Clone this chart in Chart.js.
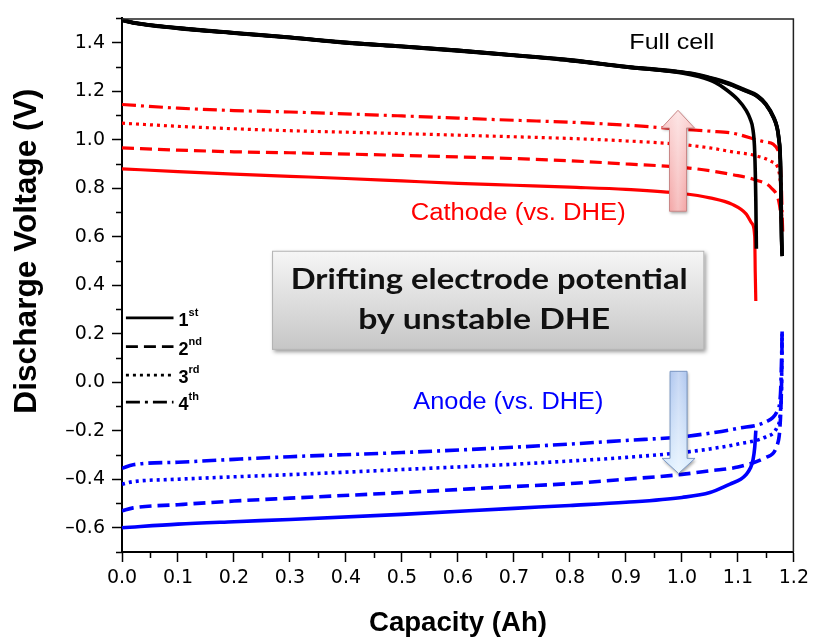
<!DOCTYPE html>
<html>
<head>
<meta charset="utf-8">
<script src="https://cdn.jsdelivr.net/npm/chart.js@4.4.1/dist/chart.umd.min.js"></script>
<style>
html,body{margin:0;padding:0;background:#fff;}
canvas{display:block;}
</style>
</head>
<body>
<canvas id="chart" width="814" height="638"></canvas>
<script>
// ---------- axis ticks ----------
const xTickValues = [0, 0.1, 0.2, 0.3, 0.4, 0.5, 0.6, 0.7, 0.8, 0.9, 1.0, 1.1, 1.2];
const xTickLabels = ['0.0','0.1','0.2','0.3','0.4','0.5','0.6','0.7','0.8','0.9','1.0','1.1','1.2'];
const yTickValues = [-0.6, -0.4, -0.2, 0, 0.2, 0.4, 0.6, 0.8, 1.0, 1.2, 1.4];
const yTickLabels = ['\u20130.6','\u20130.4','\u20130.2','0.0','0.2','0.4','0.6','0.8','1.0','1.2','1.4'];

// ---------- Full cell (black) ----------
const fullCap1 = [0, 0.02, 0.1, 0.2, 0.3, 0.4, 0.5, 0.6, 0.7, 0.8, 0.9, 1.0, 1.03, 1.06, 1.08, 1.1, 1.115, 1.122, 1.127, 1.13, 1.132, 1.133];
const fullV1   = [1.493, 1.482, 1.46, 1.44, 1.422, 1.40, 1.385, 1.368, 1.348, 1.328, 1.30, 1.275, 1.26, 1.235, 1.205, 1.165, 1.12, 1.085, 1.04, 0.95, 0.75, 0.55];
const fullCapN = [0, 0.02, 0.1, 0.2, 0.3, 0.4, 0.5, 0.6, 0.7, 0.8, 0.9, 1.0, 1.03, 1.06, 1.09, 1.11, 1.134, 1.15, 1.164, 1.17, 1.173, 1.176, 1.177, 1.178, 1.179];
const fullV2   = [1.492, 1.481, 1.459, 1.44, 1.421, 1.401, 1.384, 1.367, 1.348, 1.327, 1.301, 1.278, 1.266, 1.248, 1.225, 1.205, 1.18, 1.145, 1.09, 1.05, 1.005, 0.9, 0.75, 0.6, 0.52];
const fullV3   = [1.494, 1.483, 1.461, 1.441, 1.422, 1.40, 1.385, 1.368, 1.349, 1.329, 1.302, 1.279, 1.268, 1.25, 1.228, 1.208, 1.183, 1.148, 1.093, 1.052, 1.008, 0.91, 0.76, 0.61, 0.53];
const fullV4   = [1.493, 1.482, 1.46, 1.439, 1.42, 1.399, 1.383, 1.366, 1.347, 1.326, 1.30, 1.277, 1.265, 1.247, 1.224, 1.204, 1.179, 1.144, 1.088, 1.048, 1.003, 0.89, 0.74, 0.59, 0.52];

// ---------- Cathode (red) ----------
const cathCap1 = [0, 0.1, 0.2, 0.3, 0.4, 0.5, 0.6, 0.7, 0.8, 0.9, 1.0, 1.05, 1.09, 1.115, 1.125, 1.13, 1.131, 1.132];
const cathV1   = [0.88, 0.868, 0.858, 0.849, 0.84, 0.83, 0.82, 0.812, 0.804, 0.795, 0.778, 0.76, 0.733, 0.693, 0.655, 0.6, 0.45, 0.335];
const cathCapN = [0, 0.1, 0.2, 0.3, 0.5, 0.7, 0.8, 0.9, 1.0, 1.05, 1.09, 1.13, 1.16, 1.173, 1.177, 1.179];
const cathV2   = [0.966, 0.957, 0.95, 0.946, 0.935, 0.922, 0.913, 0.90, 0.886, 0.872, 0.856, 0.835, 0.80, 0.745, 0.68, 0.62];
const cathV3   = [1.068, 1.055, 1.045, 1.037, 1.025, 1.012, 1.005, 0.995, 0.98, 0.966, 0.95, 0.935, 0.91, 0.87, 0.78, 0.64];
const cathCap4 = [0, 0.1, 0.2, 0.3, 0.5, 0.7, 0.8, 0.9, 1.0, 1.05, 1.09, 1.15, 1.173, 1.177, 1.179, 1.18];
const cathV4   = [1.145, 1.13, 1.12, 1.114, 1.098, 1.08, 1.072, 1.06, 1.043, 1.035, 1.027, 0.99, 0.95, 0.85, 0.7, 0.62];

// ---------- Anode (blue) ----------
const anCap1 = [0, 0.1, 0.2, 0.3, 0.5, 0.7, 0.8, 0.9, 1.0, 1.05, 1.086, 1.105, 1.115, 1.122, 1.127, 1.13, 1.132];
const anV1   = [-0.60, -0.585, -0.575, -0.566, -0.545, -0.52, -0.508, -0.495, -0.475, -0.455, -0.42, -0.40, -0.38, -0.355, -0.32, -0.27, -0.2];
const anCapN = [0, 0.02, 0.1, 0.2, 0.3, 0.5, 0.7, 0.8, 0.9, 1.0, 1.05, 1.1, 1.15, 1.17, 1.176, 1.178, 1.179];
const anV2   = [-0.53, -0.518, -0.505, -0.49, -0.478, -0.455, -0.43, -0.418, -0.40, -0.38, -0.365, -0.35, -0.31, -0.26, -0.15, 0.0, 0.2];
const anV3   = [-0.42, -0.41, -0.40, -0.39, -0.381, -0.36, -0.338, -0.325, -0.31, -0.29, -0.275, -0.255, -0.225, -0.185, -0.12, 0.0, 0.2];
const anV4   = [-0.355, -0.34, -0.33, -0.318, -0.307, -0.29, -0.268, -0.255, -0.24, -0.225, -0.21, -0.19, -0.163, -0.12, -0.05, 0.1, 0.21];

// ---------- legend / labels ----------
const cycleNames = ['1', '2', '3', '4'];
const cycleSup = ['st', 'nd', 'rd', 'th'];

const pts = (xs, ys) => xs.map((x, i) => ({x: x, y: ys[i]}));
const DASH = { solid: [], dashed: [12, 6], dotted: [3, 4], dashdot: [14, 5, 3, 5] };
const styles = [DASH.solid, DASH.dashed, DASH.dotted, DASH.dashdot];

function ds(label, xs, ys, color, dash, width) {
  return {
    label: label, data: pts(xs, ys), borderColor: color, borderWidth: width,
    borderDash: dash, pointRadius: 0, fill: false, cubicInterpolationMode: 'monotone',
    borderCapStyle: 'butt', borderJoinStyle: 'round'
  };
}

const datasets = [
  ds('Full cell 2nd', fullCapN, fullV2, '#000', [], 3.6),
  ds('Full cell 3rd', fullCapN, fullV3, '#000', [], 3.6),
  ds('Full cell 4th', fullCapN, fullV4, '#000', [], 3.6),
  ds('Full cell 1st', fullCap1, fullV1, '#000', [], 3.6),
  ds('Cathode 1st', cathCap1, cathV1, '#ff0000', DASH.solid, 3.2),
  ds('Cathode 2nd', cathCapN, cathV2, '#ff0000', DASH.dashed, 3.2),
  ds('Cathode 3rd', cathCapN, cathV3, '#ff0000', DASH.dotted, 3.2),
  ds('Cathode 4th', cathCap4, cathV4, '#ff0000', DASH.dashdot, 3.2),
  ds('Anode 1st', anCap1, anV1, '#0000ff', DASH.solid, 3.6),
  ds('Anode 2nd', anCapN, anV2, '#0000ff', DASH.dashed, 3.6),
  ds('Anode 3rd', anCapN, anV3, '#0000ff', DASH.dotted, 3.6),
  ds('Anode 4th', anCapN, anV4, '#0000ff', DASH.dashdot, 3.6)
];

function fitText(ctx, text, cx, baseY, font, targetW, color, rot) {
  ctx.save();
  ctx.font = font;
  ctx.fillStyle = color;
  ctx.textAlign = 'center';
  ctx.textBaseline = 'alphabetic';
  const w = ctx.measureText(text).width;
  ctx.translate(cx, baseY);
  if (rot) ctx.rotate(rot);
  ctx.scale(targetW / w, 1);
  ctx.fillText(text, 0, 0);
  ctx.restore();
}

function arrowPath(ctx, cx, yTail, yBase, yTip, sw, hw) {
  ctx.beginPath();
  ctx.moveTo(cx - sw / 2, yTail);
  ctx.lineTo(cx - sw / 2, yBase);
  ctx.lineTo(cx - hw / 2, yBase);
  ctx.lineTo(cx, yTip);
  ctx.lineTo(cx + hw / 2, yBase);
  ctx.lineTo(cx + sw / 2, yBase);
  ctx.lineTo(cx + sw / 2, yTail);
  ctx.closePath();
}

function drawArrow(ctx, cx, yTail, yBase, yTip, cTail, cTip, stroke) {
  const sw = 17, hw = 33;
  ctx.save();
  arrowPath(ctx, cx, yTail, yBase, yTip, sw, hw);
  const g = ctx.createLinearGradient(0, yTip, 0, yTail);
  g.addColorStop(0, cTip);
  g.addColorStop(1, cTail);
  ctx.shadowColor = 'rgba(0,0,0,0.35)';
  ctx.shadowBlur = 3; ctx.shadowOffsetX = 1; ctx.shadowOffsetY = 2;
  ctx.fillStyle = g;
  ctx.fill();
  ctx.shadowColor = 'transparent';
  const h = ctx.createLinearGradient(cx - hw / 2, 0, cx + hw / 2, 0);
  h.addColorStop(0, 'rgba(255,255,255,0)');
  h.addColorStop(0.5, 'rgba(255,255,255,0.45)');
  h.addColorStop(1, 'rgba(255,255,255,0)');
  ctx.fillStyle = h;
  ctx.fill();
  ctx.strokeStyle = stroke; ctx.lineWidth = 1;
  ctx.stroke();
  ctx.restore();
}

const decoPlugin = {
  id: 'deco',
  afterDatasetsDraw(chart) {
    const {ctx, scales: {x, y}} = chart;
    const X = v => x.getPixelForValue(v), Y = v => y.getPixelForValue(v);

    // arrows
    drawArrow(ctx, X(0.993), Y(0.705), Y(1.048), Y(1.121), '#f08c8c', '#fbd2d2', '#c98888');
    drawArrow(ctx, X(0.994), Y(0.045), Y(-0.314), Y(-0.376), '#98b6ea', '#dcefff', '#7b97c2');

    // text box
    const bx0 = X(0.268), bx1 = X(1.04), by0 = Y(0.542), by1 = Y(0.1335);
    ctx.save();
    const bg = ctx.createLinearGradient(0, by0, 0, by1);
    bg.addColorStop(0, '#f6f6f6');
    bg.addColorStop(1, '#c6c6c6');
    ctx.shadowColor = 'rgba(0,0,0,0.4)';
    ctx.shadowBlur = 4; ctx.shadowOffsetX = 2; ctx.shadowOffsetY = 2;
    ctx.fillStyle = bg;
    ctx.fillRect(bx0, by0, bx1 - bx0, by1 - by0);
    ctx.shadowColor = 'transparent';
    ctx.strokeStyle = '#b4b4b4'; ctx.lineWidth = 1;
    ctx.strokeRect(bx0 + 0.5, by0 + 0.5, bx1 - bx0 - 1, by1 - by0 - 1);
    ctx.restore();
    const bc = (bx0 + bx1) / 2;
    fitText(ctx, 'Drifting electrode potential', bc + 1, by0 + 38, 'bold 29px Lato, "Open Sans", sans-serif', 397, '#111');
    fitText(ctx, 'by unstable DHE', bc - 4, by0 + 78, 'bold 29px Lato, "Open Sans", sans-serif', 252, '#111');

    // labels
    fitText(ctx, 'Full cell', X(0.982), Y(1.374), '22px "Liberation Sans", Arial, sans-serif', 85, '#000');
    fitText(ctx, 'Cathode (vs. DHE)', X(0.7076), Y(0.668), '23px "Liberation Sans", Arial, sans-serif', 215, '#ff0000');
    fitText(ctx, 'Anode (vs. DHE)', X(0.69), Y(-0.110), '23px "Liberation Sans", Arial, sans-serif', 190, '#0000ff');

    // legend
    const legY = [0.265, 0.147, 0.029, -0.082];
    ctx.save();
    for (let i = 0; i < 4; i++) {
      const yy = Y(legY[i]);
      ctx.strokeStyle = '#000'; ctx.lineWidth = 2.8;
      ctx.setLineDash(styles[i]);
      ctx.beginPath(); ctx.moveTo(X(0.007), yy); ctx.lineTo(X(0.092), yy); ctx.stroke();
      ctx.setLineDash([]);
      ctx.fillStyle = '#000';
      ctx.textAlign = 'left'; ctx.textBaseline = 'alphabetic';
      ctx.font = 'bold 18px "Liberation Sans", Arial, sans-serif';
      const tx = X(0.101);
      ctx.fillText(cycleNames[i], tx, yy + 8);
      const w = ctx.measureText(cycleNames[i]).width;
      ctx.font = 'bold 11px "Liberation Sans", Arial, sans-serif';
      ctx.fillText(cycleSup[i], tx + w, yy - 2);
    }
    ctx.restore();
  },
  afterDraw(chart) {
    const {ctx, chartArea: a, scales: {x, y}} = chart;
    ctx.save();
    // top & right frame
    ctx.strokeStyle = '#222'; ctx.lineWidth = 1.5;
    ctx.beginPath();
    ctx.moveTo(a.left, a.top + 0.5); ctx.lineTo(a.right - 0.5, a.top + 0.5); ctx.lineTo(a.right - 0.5, a.bottom);
    ctx.stroke();
    // minor ticks
    ctx.strokeStyle = '#000'; ctx.lineWidth = 1.5;
    ctx.beginPath();
    for (let k = 0; k < xTickValues.length - 1; k++) {
      const px = Math.round(x.getPixelForValue((xTickValues[k] + xTickValues[k + 1]) / 2)) + 0.5;
      ctx.moveTo(px, a.bottom); ctx.lineTo(px, a.bottom + 6);
    }
    const yMinor = [-0.7, -0.5, -0.3, -0.1, 0.1, 0.3, 0.5, 0.7, 0.9, 1.1, 1.3, 1.5];
    for (const v of yMinor) {
      const py = Math.round(y.getPixelForValue(v)) + 0.5;
      ctx.moveTo(a.left, py); ctx.lineTo(a.left - 6, py);
    }
    ctx.stroke();
    ctx.restore();
    // axis titles
    fitText(ctx, 'Discharge Voltage (V)', 36, (a.top + a.bottom) / 2 - 34, 'bold 31px "Liberation Sans", Arial, sans-serif', 325, '#000', -Math.PI / 2);
    fitText(ctx, 'Capacity (Ah)', (a.left + a.right) / 2, 631, 'bold 28px "Liberation Sans", Arial, sans-serif', 178, '#000');
  }
};

const tickFont = { family: '"DejaVu Sans", sans-serif', size: 19 };

new Chart(document.getElementById('chart'), {
  type: 'line',
  data: { datasets: datasets },
  options: {
    responsive: false,
    animation: false,
    events: [],
    layout: { padding: { top: 12, right: 17, left: 0, bottom: 0 } },
    plugins: { legend: { display: false }, tooltip: { enabled: false }, title: { display: false } },
    scales: {
      x: {
        type: 'linear', min: 0, max: 1.2,
        afterBuildTicks: s => { s.ticks = xTickValues.map(v => ({ value: v })); },
        afterFit: s => { s.height = 86; },
        ticks: { callback: (v, i) => xTickLabels[i], font: tickFont, color: '#000', padding: 5, maxRotation: 0, autoSkip: false },
        grid: { drawOnChartArea: false, drawTicks: true, tickLength: 10, tickColor: '#000', tickWidth: 1.5 },
        border: { display: true, color: '#000', width: 2 }
      },
      y: {
        type: 'linear', min: -0.7, max: 1.5,
        afterBuildTicks: s => { s.ticks = yTickValues.map(v => ({ value: v })); },
        afterFit: s => { s.width = 122; },
        ticks: { callback: (v, i) => yTickLabels[i], font: tickFont, color: '#000', padding: 7 },
        grid: { drawOnChartArea: false, drawTicks: true, tickLength: 10, tickColor: '#000', tickWidth: 1.5 },
        border: { display: true, color: '#000', width: 2 }
      }
    }
  },
  plugins: [decoPlugin]
});
</script>
</body>
</html>
